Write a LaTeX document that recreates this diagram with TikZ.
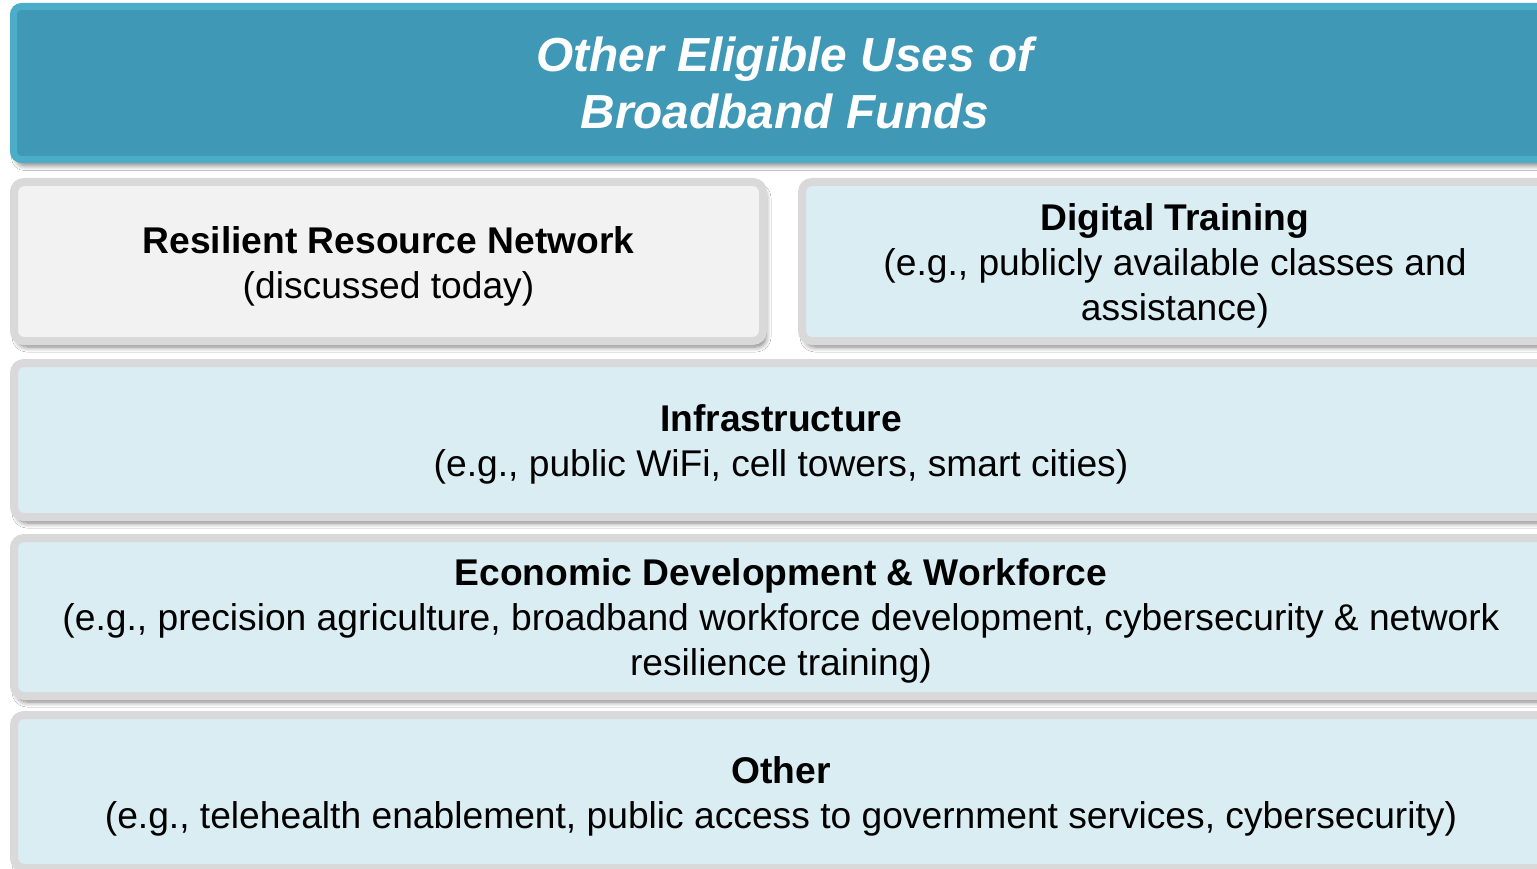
\documentclass[tikz,border=0pt]{standalone}
\usepackage{fontspec}
\setmainfont{Liberation Sans}
\usetikzlibrary{shadows.blur}
\definecolor{titlefill}{HTML}{3E98B6}
\definecolor{titleedge}{HTML}{4BADC7}
\definecolor{edgegray}{HTML}{D9D9D9}
\definecolor{grayfill}{HTML}{F2F2F2}
\definecolor{bluefill}{HTML}{DAEDF3}
\tikzset{
  shadowed/.style={blur shadow={shadow xshift=3pt, shadow yshift=-6pt, shadow blur steps=6, shadow blur radius=5pt, shadow opacity=50}},
  titlebox/.style={rectangle, rounded corners=8pt, draw=titleedge, fill=titlefill, line width=7pt,
    inner sep=0pt, align=center, text=white, font=\fontsize{47.8}{57}\selectfont\bfseries\itshape, shadowed},
  itembox/.style={rectangle, rounded corners=10pt, draw=edgegray, fill=bluefill, line width=8pt,
    inner sep=0pt, shadowed},
  graybox/.style={itembox, fill=grayfill},
  itemtext/.style={inner sep=0pt, align=center, text=black, font=\fontsize{37.2}{45}\selectfont},
}
\begin{document}
\begin{tikzpicture}[x=1pt,y=-1pt]
\useasboundingbox (0,0) rectangle (1537,869);
\fill[white] (0,0) rectangle (1537,869);
\clip (0,0) rectangle (1537,869);
\node[titlebox, minimum width=1543pt, minimum height=153pt] (title) at (785,83)
  {Other Eligible Uses of\\Broadband Funds};
\node[graybox, minimum width=749pt, minimum height=159pt] (rrn) at (388.5,261.5) {};
\node[itemtext] (rrntext) at ([yshift=-5pt]rrn.center)
  {\textbf{Resilient Resource Network}\\(discussed today)};
\node[itembox, minimum width=746pt, minimum height=159pt] (digital) at (1175,261.5) {};
\node[itemtext] (digitaltext) at ([yshift=-4pt]digital.center)
  {\textbf{Digital Training}\\(e.g., publicly available classes and\\assistance)};
\node[itembox, minimum width=1534pt, minimum height=154pt] (infra) at (781,440) {};
\node[itemtext] (infratext) at ([yshift=-4pt]infra.center)
  {\textbf{Infrastructure}\\(e.g., public WiFi, cell towers, smart cities)};
\node[itembox, minimum width=1534pt, minimum height=158pt] (econ) at (781,617) {};
\node[itemtext] (econtext) at ([yshift=-4pt]econ.center)
  {\textbf{Economic Development \& Workforce}\\(e.g., precision agriculture, broadband workforce development, cybersecurity \& network\\resilience training)};
\node[itembox, minimum width=1534pt, minimum height=153pt] (other) at (781,791.5) {};
\node[itemtext] (othertext) at ([yshift=-5pt]other.center)
  {\textbf{Other}\\(e.g., telehealth enablement, public access to government services, cybersecurity)};
\end{tikzpicture}
\end{document}
